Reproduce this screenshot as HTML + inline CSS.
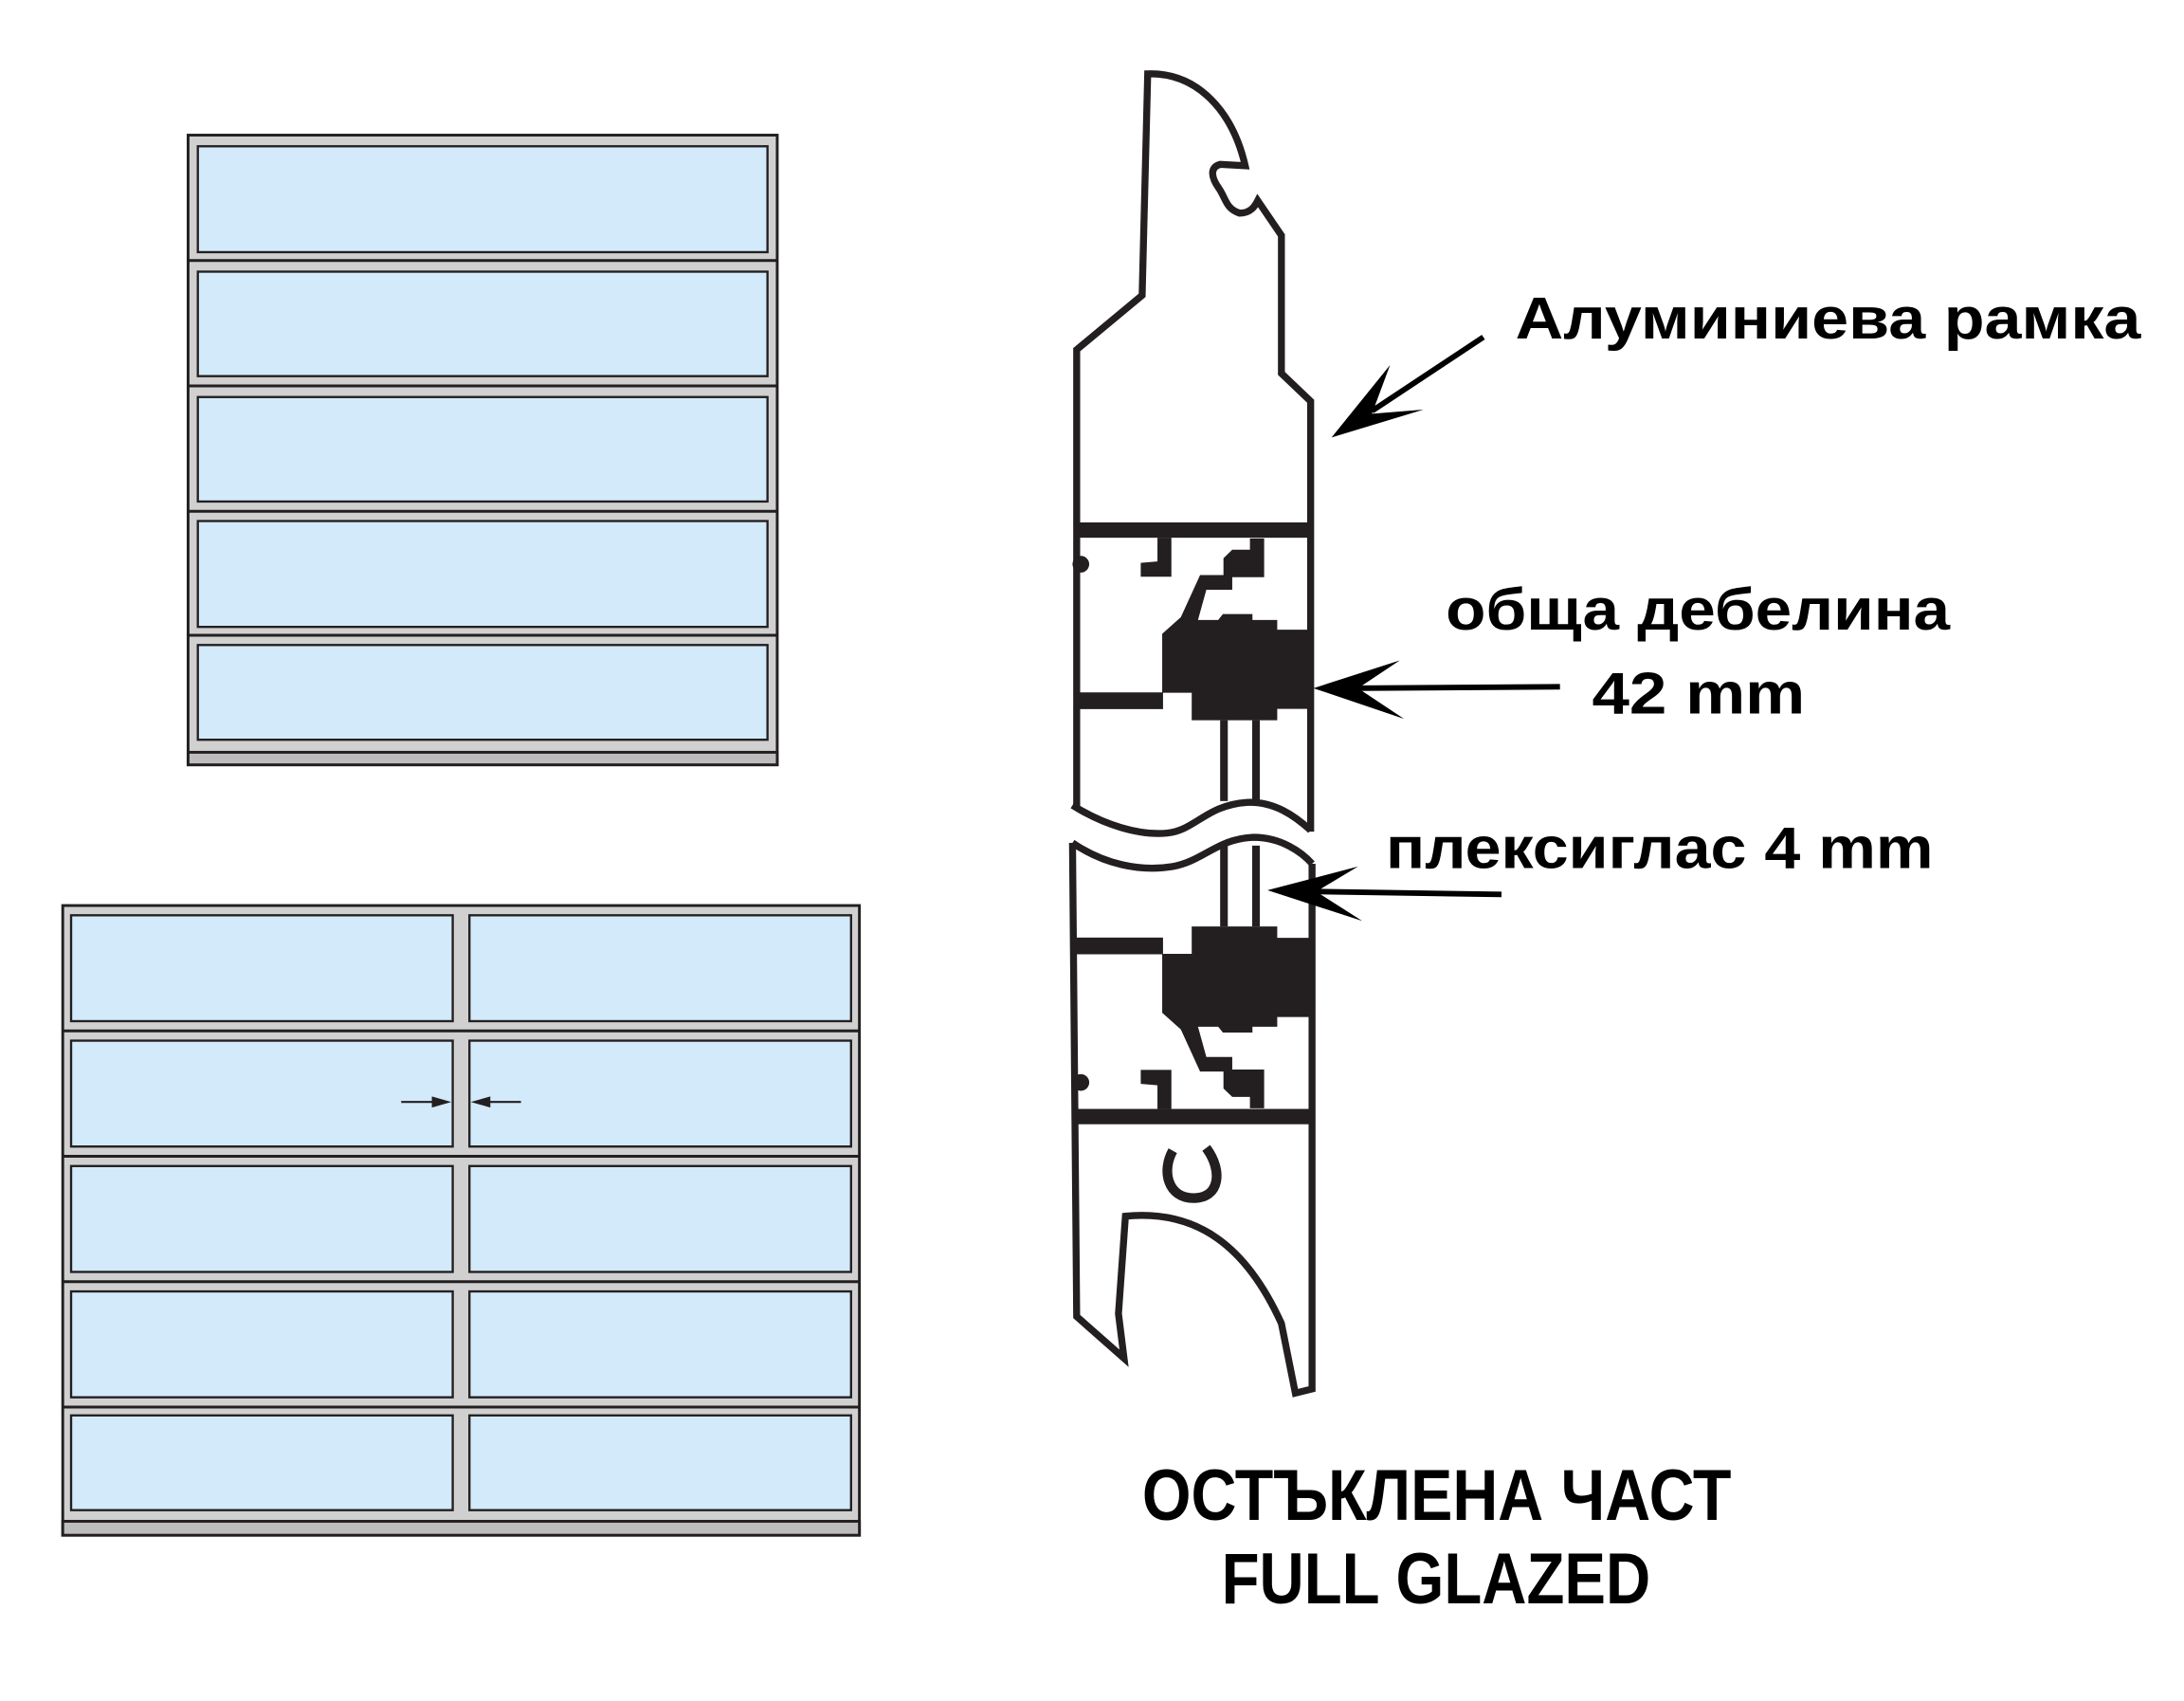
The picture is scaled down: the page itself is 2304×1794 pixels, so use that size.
<!DOCTYPE html>
<html><head><meta charset="utf-8"><style>html,body{margin:0;padding:0;background:#fff}svg{display:block}</style></head>
<body>
<svg width="2304" height="1794" viewBox="0 0 1568 1221" xmlns="http://www.w3.org/2000/svg">
<rect width="1568" height="1221" fill="#fff"/>
<g stroke="#231f20" stroke-width="2">
<!-- top-left door -->
<rect x="135" y="97" width="423" height="452" fill="#d0d0d0"/>
<line x1="135" y1="187" x2="558" y2="187"/><line x1="135" y1="277" x2="558" y2="277"/>
<line x1="135" y1="367" x2="558" y2="367"/><line x1="135" y1="456" x2="558" y2="456"/>
<line x1="135" y1="540" x2="558" y2="540"/>
<rect x="135" y="540" width="423" height="9" fill="#bdbdbd"/>
<g fill="#d2eafa" stroke-width="1.6">
<rect x="142" y="105" width="409" height="76"/>
<rect x="142" y="195" width="409" height="75"/>
<rect x="142" y="285" width="409" height="75"/>
<rect x="142" y="374" width="409" height="76"/>
<rect x="142" y="463" width="409" height="68"/>
</g>
<!-- bottom-left door -->
<rect x="45" y="650" width="572" height="452" fill="#d0d0d0"/>
<line x1="45" y1="740" x2="617" y2="740"/><line x1="45" y1="830" x2="617" y2="830"/>
<line x1="45" y1="920" x2="617" y2="920"/><line x1="45" y1="1010" x2="617" y2="1010"/>
<rect x="45" y="1092" width="572" height="10" fill="#bdbdbd"/>
<g fill="#d2eafa" stroke-width="1.6">
<rect x="51" y="657" width="274" height="76"/><rect x="337" y="657" width="274" height="76"/>
<rect x="51" y="747" width="274" height="76"/><rect x="337" y="747" width="274" height="76"/>
<rect x="51" y="837" width="274" height="76"/><rect x="337" y="837" width="274" height="76"/>
<rect x="51" y="927" width="274" height="76"/><rect x="337" y="927" width="274" height="76"/>
<rect x="51" y="1016" width="274" height="68"/><rect x="337" y="1016" width="274" height="68"/>
</g>
<line x1="288" y1="791" x2="318" y2="791" stroke-width="1.5"/>
<line x1="344" y1="791" x2="374" y2="791" stroke-width="1.5"/>
</g>
<polygon points="324,791 310,787 310,795" fill="#231f20"/>
<polygon points="338,791 352,787 352,795" fill="#231f20"/>

<!-- profile -->
<g fill="none" stroke="#231f20" stroke-width="5" stroke-linejoin="miter">
<path d="M773,580 L773,251 L820,212 L824,53 C860,52 885,80 894,119 L876,118 C868,120 870,128 875,135 C880,142 880,150 890,153 C898,153 901,148 903,144 L920,169 L920,268 L941,288 L941,597"/>
<path d="M770,578 C792,592 818,600 838,598 C858,596 866,578 895,576 C915,575 930,586 941,596"/>
<path d="M770,605 C792,620 818,626 842,622 C864,618 874,602 900,601 C920,601 935,612 942,620"/>
<path d="M770,605 L773,945 L807,975 L803,943 L808,873 C860,868 895,895 920,950 L930,1000 L942,997 L942,620"/>
<path d="M842,826 C834,840 838,860 857,860 C876,860 878,840 866,824" stroke-width="7"/>
</g>
<g id="sec" fill="#231f20">
<rect x="773" y="375" width="168" height="11"/>
<rect x="773" y="497" width="62" height="12"/>
<circle cx="776" cy="405" r="6"/>
<polygon points="831,386 841,386 841,414 819,414 819,404 831,403"/>
<path d="M834.4,455 L847.8,443 L861.6,412.8 L878.4,412.8 L878.4,400.7 L884.7,394.6 L897.4,394.6 L897.4,386.5 L907.6,386.5 L907.6,414.3 L884.7,414.3 L884.7,423.3 L866.1,423.3 L860.1,445 L874.6,445 L878,440.8 L899.2,440.8 L899.2,445 L917,445 L917,452 L942.7,452 L942.7,508.8 L917,508.8 L917,517 L855.6,517 L855.6,497.3 L834.4,497.3 Z"/>
<rect x="876" y="517" width="5.5" height="58"/>
<rect x="899" y="517" width="5.5" height="58"/>
</g>
<use href="#sec" transform="translate(0,1182) scale(1,-1)"/>

<!-- arrows -->
<g stroke="#000" stroke-width="4">
<line x1="1065" y1="242" x2="985" y2="295"/>
<line x1="1120" y1="493" x2="975" y2="494"/>
<line x1="1078" y1="642" x2="945" y2="640"/>
</g>
<g fill="#000">
<polygon points="956,314 998,262 985,297 1022,294"/>
<polygon points="943,494 1005,474 975,494 1008,516"/>
<polygon points="910,639 975,622 945,640 978,661"/>
</g>

<g font-family="Liberation Sans, DejaVu Sans, sans-serif" font-weight="bold" fill="#000">
<text x="1088" y="243" font-size="42" textLength="449" lengthAdjust="spacingAndGlyphs">Алуминиева рамка</text>
<text x="1038" y="452" font-size="42" textLength="362" lengthAdjust="spacingAndGlyphs">обща дебелина</text>
<text x="1143" y="512" font-size="42" textLength="153" lengthAdjust="spacingAndGlyphs">42 mm</text>
<text x="995" y="623" font-size="42" textLength="393" lengthAdjust="spacingAndGlyphs">плексиглас 4 mm</text>
<text x="820" y="1091" font-size="52" textLength="423" lengthAdjust="spacingAndGlyphs">ОСТЪКЛЕНА ЧАСТ</text>
<text x="877" y="1151" font-size="52" textLength="308" lengthAdjust="spacingAndGlyphs">FULL GLAZED</text>
</g>
</svg>
</body></html>
